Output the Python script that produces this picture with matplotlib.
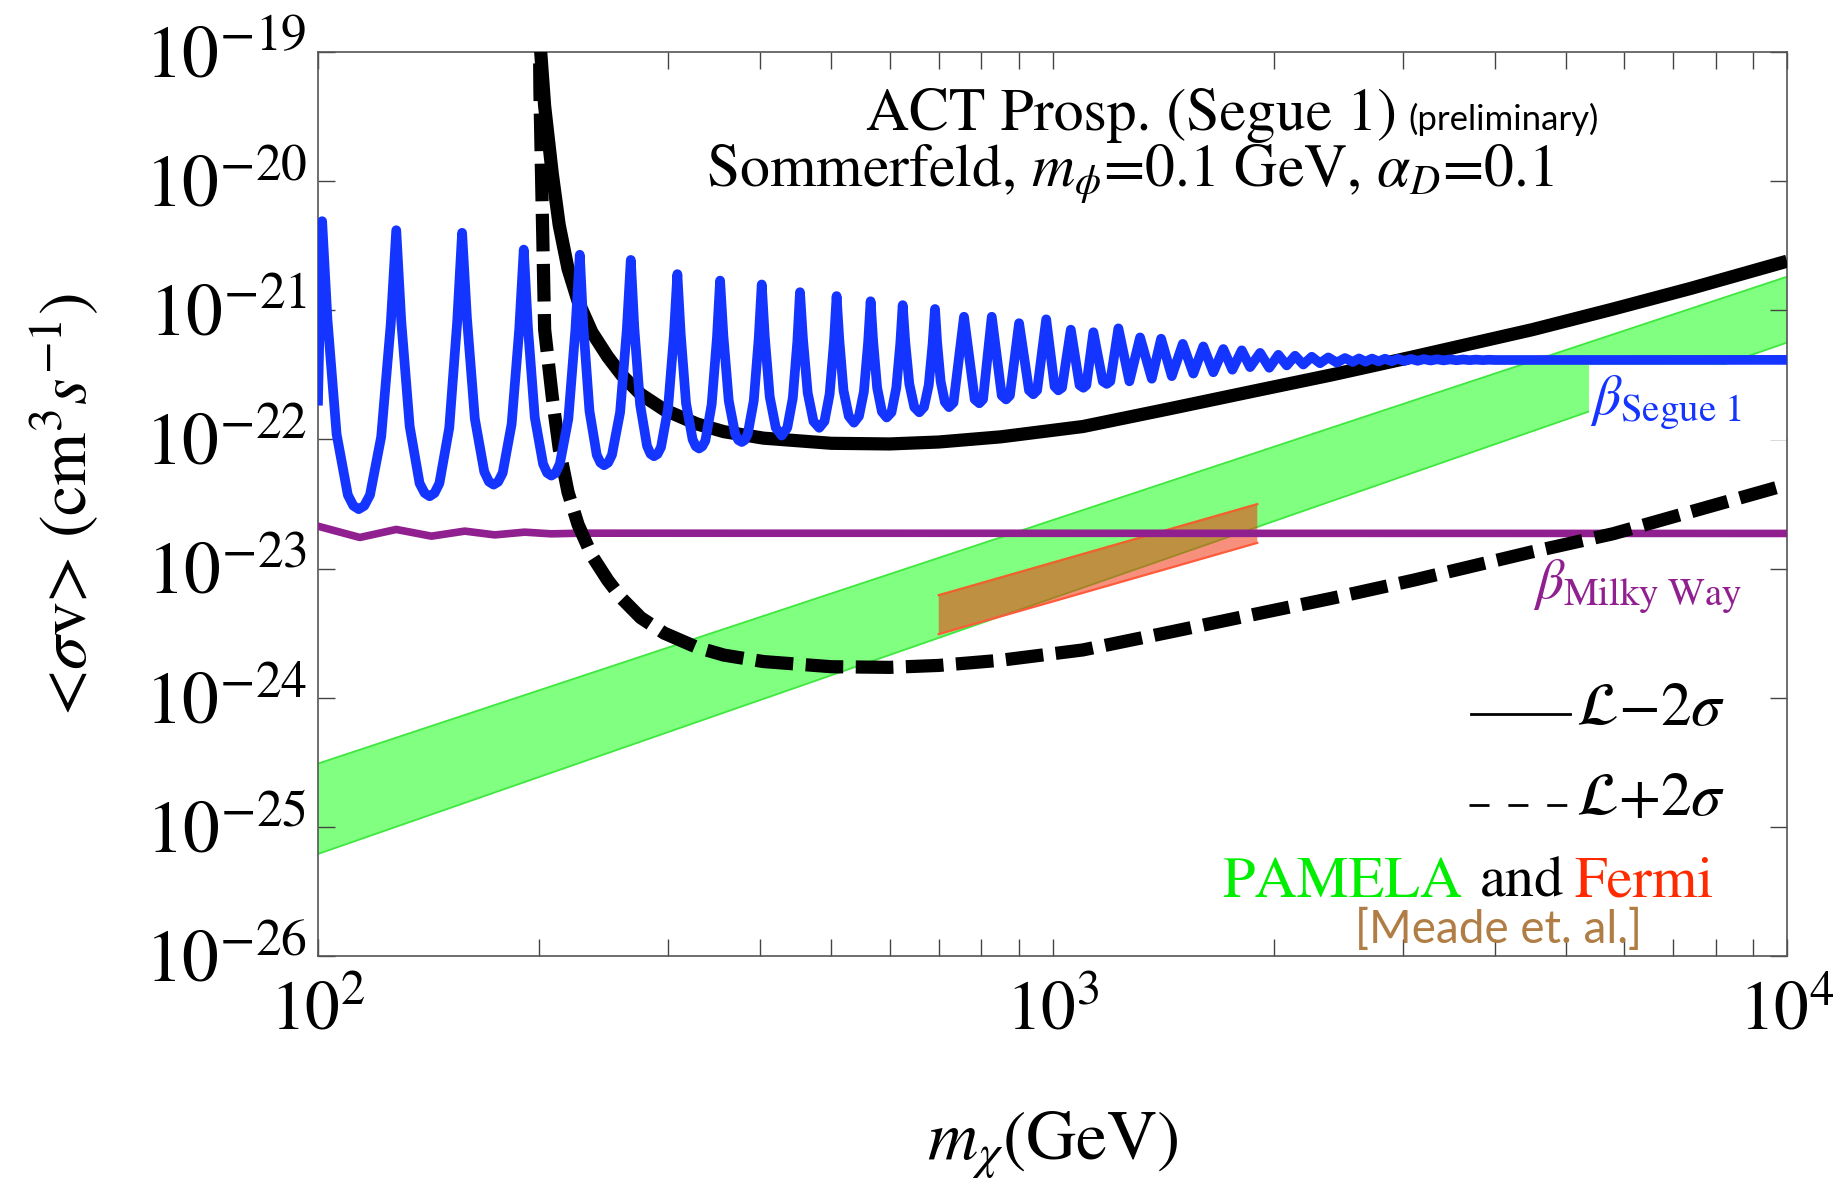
import numpy as np
import matplotlib.pyplot as plt
import matplotlib.patches as mpatches
from matplotlib.ticker import LogLocator, NullLocator, NullFormatter

plt.rcParams['font.family'] = ['STIXGeneral', 'DejaVu Sans']
plt.rcParams['mathtext.fontset'] = 'stix'

# ---- data (mass in GeV, <sigma v> as log10 exponent) ----

# beta Segue 1 (Sommerfeld resonances)
blue_mass = [
    100.0, 100.6, 101.3, 103.0, 106.0, 109.8, 111.7, 113.6, 115.6, 117.7, 121.9, 125.6,
    127.8, 129.8, 133.3, 137.5, 139.7, 141.9, 144.1, 146.3, 150.9, 154.7,
    157.1, 159.5, 163.5, 168.4, 170.9, 173.4, 175.9, 178.4, 183.5, 187.9,
    190.6, 193.1, 197.3, 202.5, 205.1, 207.8, 210.6, 213.4, 219.2, 224.1,
    227.2, 229.7, 234.2, 239.6, 242.4, 245.2, 248.3, 251.3, 257.8, 263.3,
    266.6, 269.5, 274.5, 280.5, 283.6, 286.7, 289.9, 293.1, 299.6, 305.1,
    308.5, 311.7, 317.0, 323.6, 326.9, 330.2, 333.5, 336.8, 343.5, 349.3,
    352.7, 356.4, 362.4, 369.8, 373.6, 377.5, 381.0, 384.6, 392.0, 398.1,
    401.9, 405.7, 412.1, 420.0, 427.9, 435.4, 443.0, 449.4,
    453.1, 457.3, 464.2, 472.7, 481.3, 489.2, 497.2, 504.1,
    508.2, 512.4, 519.3, 528.0, 536.6, 545.1, 553.6, 561.0,
    565.4, 569.9, 577.1, 585.8, 594.6, 603.6, 612.8, 620.5,
    625.2, 630.1, 638.3, 648.4, 658.6, 668.4, 678.4, 686.7,
    691.9, 696.5, 704.2, 713.5, 722.9, 733.2,
    757.7, 783.6, 795.0, 804.3, 826.6, 852.9, 864.5, 874.9, 900.5, 929.0, 941.6,
    952.9, 980.4, 1006.6, 1018.4, 1030.2, 1059, 1088.6, 1101.6, 1111.9, 1136.7,
    1170.7, 1185.5, 1198.6, 1229.4, 1272.5, 1315.9, 1365.1, 1405.5, 1453.4, 1504.4,
    1554.9, 1604.4, 1655.6, 1708.3, 1757.3, 1810.0, 1857.6, 1917, 1973, 2030,
    2084, 2139, 2195, 2254, 2313, 2374, 2438, 2502, 2563, 2614, 2668, 2723, 2779,
    2836, 2895, 2954, 3015, 3077, 3141, 3205, 3271, 3339, 3407, 3477, 3549, 3622,
    3697, 3773, 3850, 3929, 4010, 10000,
]
blue_exp = [
    -21.70, -21.00, -20.31, -21.07, -21.96, -22.43, -22.513, -22.54, -22.514, -22.43, -21.98, -21.11,
    -20.38, -21.08, -21.90, -22.34, -22.415, -22.44, -22.415, -22.34, -21.91, -21.09,
    -20.40, -21.06, -21.84, -22.25, -22.327, -22.35, -22.328, -22.26, -21.88, -21.15,
    -20.53, -21.13, -21.83, -22.19, -22.259, -22.28, -22.26, -22.19, -21.84, -21.15,
    -20.57, -21.12, -21.78, -22.12, -22.18, -22.20, -22.18, -22.12, -21.79, -21.15,
    -20.61, -21.13, -21.73, -22.05, -22.112, -22.13, -22.113, -22.06, -21.76, -21.20,
    -20.72, -21.18, -21.72, -22.00, -22.054, -22.07, -22.054, -22.01, -21.73, -21.21,
    -20.77, -21.20, -21.70, -21.96, -22.005, -22.02, -22.005, -21.96, -21.70, -21.22,
    -20.80, -21.20, -21.67, -21.91, -21.97, -21.91, -21.68, -21.24,
    -20.86, -21.22, -21.64, -21.86, -21.91, -21.86, -21.65, -21.24,
    -20.89, -21.22, -21.62, -21.82, -21.87, -21.82, -21.63, -21.25,
    -20.93, -21.24, -21.60, -21.785, -21.83, -21.79, -21.60, -21.26,
    -20.96, -21.24, -21.57, -21.75, -21.79, -21.75, -21.58, -21.26,
    -20.99, -21.25, -21.55, -21.71, -21.75, -21.715,
    -21.05, -21.69, -21.72, -21.69, -21.05, -21.66, -21.69, -21.66, -21.10, -21.62, -21.65,
    -21.62, -21.07, -21.59, -21.62, -21.60, -21.15, -21.58, -21.60, -21.58, -21.17,
    -21.55, -21.57, -21.55, -21.14, -21.55, -21.21, -21.53, -21.22, -21.51, -21.26,
    -21.49, -21.28, -21.48, -21.30, -21.46, -21.31, -21.44, -21.33, -21.445, -21.345,
    -21.427, -21.352, -21.42, -21.36, -21.41, -21.365, -21.405, -21.37, -21.40, -21.373,
    -21.398, -21.374, -21.396, -21.375, -21.394, -21.376, -21.392, -21.377, -21.391,
    -21.378, -21.389, -21.379, -21.388, -21.380, -21.387, -21.381, -21.386, -21.382,
    -21.386, -21.383, -21.385, -21.384,
]

# beta Milky Way
purple_mass = [100, 114.0, 127.8, 142.7, 158.4, 174.0, 191.2, 207.8, 227, 10000]
purple_exp = [-22.672, -22.759, -22.697, -22.749, -22.710, -22.739, -22.718, -22.731,
              -22.726, -22.728]

# L - 2 sigma (solid)
solid_mass = [200.6, 201.0, 203.5, 208.4, 213.0, 219.0, 226.0, 236.0, 248.0, 259.0,
              275.0, 296.0, 328.0, 357.0, 404.0, 500, 600, 700, 850, 1100, 1450, 1900,
              2400, 3100, 4500, 5800, 7400, 10000]
solid_exp = [-18.70, -19.00, -19.42, -19.94, -20.34, -20.68, -20.93, -21.17, -21.36,
             -21.50, -21.65, -21.77, -21.88, -21.94, -21.99, -22.03, -22.035, -22.02,
             -21.98, -21.90, -21.76, -21.62, -21.50, -21.36, -21.15, -20.99, -20.83,
             -20.62]

# L + 2 sigma (dashed)
dashed_mass = [200.1, 200.5, 201.5, 203.5, 208.4, 213.0, 219.0, 226.0, 236.0, 248.0,
               259.0, 275.0, 296.0, 328.0, 357.0, 404.0, 500, 600, 700, 850, 1100, 1450,
               1900, 2400, 3100, 4500, 5800, 7400, 10000]
dashed_exp = [-18.70, -19.30, -19.94, -21.15, -21.67, -22.07, -22.41, -22.66, -22.90,
              -23.09, -23.23, -23.38, -23.50, -23.61, -23.67, -23.72, -23.76, -23.765,
              -23.75, -23.71, -23.63, -23.49, -23.35, -23.23, -23.09, -22.87, -22.73,
              -22.56, -22.35]

# PAMELA band
pamela_mass = [100, 10000]
pamela_low = [-25.21, -21.25]
pamela_high = [-24.51, -20.74]

# Fermi band
fermi_mass = [700, 1900]
fermi_low = [-23.508, -22.801]
fermi_high = [-23.206, -22.501]

y_ticks = [1e-19, 1e-20, 1e-21, 1e-22, 1e-23, 1e-24, 1e-25, 1e-26]


def sv(e):
    return 10.0 ** np.asarray(e)


fig = plt.figure(figsize=(18.4, 11.8), dpi=100)
ax = fig.add_axes([0.17283, 0.18983, 0.79837, 0.76610])
ax.set_xscale('log')
ax.set_yscale('log')
ax.set_xlim(100, 10000)
ax.set_ylim(1e-26, 1e-19)

# bands
ax.fill_between(pamela_mass, sv(pamela_low), sv(pamela_high), facecolor='#80ff80',
                edgecolor='none', zorder=1)
ax.plot(pamela_mass, sv(pamela_low), color='#3ee83e', lw=1.3, zorder=1.1)
ax.plot(pamela_mass, sv(pamela_high), color='#3ee83e', lw=1.3, zorder=1.1)

ax.fill_between(fermi_mass, sv(fermi_low), sv(fermi_high), facecolor='#f03510',
                alpha=0.55, edgecolor='none', zorder=2)
ax.plot(fermi_mass, sv(fermi_high), color='#f0602a', lw=1.6, zorder=2.1)
ax.plot(fermi_mass, sv(fermi_low), color='#ff5a3a', lw=1.6, zorder=2.1)

# white background behind the beta_Segue1 label
ax.add_patch(mpatches.Rectangle((0.8652, 0.5708), 0.1348, 0.0830, transform=ax.transAxes,
                                facecolor='white', edgecolor='none', zorder=2.5))

# curves
ax.plot(purple_mass, sv(purple_exp), color='#902090', lw=5.5, zorder=3)
ax.plot(solid_mass, sv(solid_exp), color='black', lw=9.5, zorder=4,
        solid_capstyle='butt')
ax.plot(dashed_mass, sv(dashed_exp), color='black', lw=9.5, zorder=4,
        linestyle=(0, (2.85, 0.95)), dash_capstyle='butt')
ax.plot(blue_mass, sv(blue_exp), color='#1434ff', lw=7, zorder=5,
        solid_joinstyle='round')

# ticks / frame
ax.set_yticks(y_ticks)
ax.yaxis.set_minor_locator(NullLocator())
ax.xaxis.set_major_locator(LogLocator(base=10))
ax.xaxis.set_minor_locator(LogLocator(base=10, subs=np.arange(2, 10)))
ax.xaxis.set_minor_formatter(NullFormatter())
ax.tick_params(which='both', direction='in', top=True, right=True, length=12,
               width=1.0, color='#444444')
ax.tick_params(axis='x', which='major', labelsize=50, pad=19)
ax.tick_params(axis='y', which='major', labelsize=53, pad=8)
for s in ax.spines.values():
    s.set_color('#555555')
    s.set_linewidth(1.2)

ax.set_xlabel(r'$m_\chi$(GeV)', fontsize=50)
ax.xaxis.set_label_coords(0.5, -0.170)
ax.text(-0.172, 0.5, r'<$\sigma$v> (cm$^3$$s^{-1}$)', rotation=90, ha='center',
        va='center', fontsize=49, transform=ax.transAxes)

# header text
ax.text(0.7345, 0.9137, 'ACT Prosp. (Segue 1)', ha='right', va='baseline',
        fontsize=43, transform=ax.transAxes)
ax.text(0.7420, 0.9137, '(preliminary)', ha='left', va='baseline', fontsize=25,
        family='Lato', transform=ax.transAxes)
ax.text(0.553, 0.8507, r'Sommerfeld, $m_\phi$=0.1 GeV, $\alpha_D$=0.1', ha='center',
        va='baseline', fontsize=43, transform=ax.transAxes)

# curve labels
ax.text(0.9694, 0.5985, r'$\beta_{\mathrm{Segue\ 1}}$', ha='right', va='baseline',
        fontsize=40, color='#1434ff', transform=ax.transAxes, zorder=6)
ax.text(0.9694, 0.3960, r'$\beta_{\mathrm{Milky\ Way}}$', ha='right', va='baseline',
        fontsize=40, color='#902090', transform=ax.transAxes, zorder=6)

# legend-like entries
ax.plot([0.7849, 0.8523], [0.2677, 0.2677], color='black', lw=2.0,
        transform=ax.transAxes, zorder=6)
ax.plot([0.7835, 0.8523], [0.1670, 0.1670], color='black', lw=2.0,
        linestyle=(0, (7.2, 6.8)), transform=ax.transAxes, zorder=6)
ax.text(0.8564, 0.2555, r'$\mathcal{L}{-}2\sigma$', ha='left', va='baseline',
        fontsize=44, transform=ax.transAxes)
ax.text(0.8564, 0.1560, r'$\mathcal{L}{+}2\sigma$', ha='left', va='baseline',
        fontsize=44, transform=ax.transAxes)

ax.text(0.6154, 0.0653, 'PAMELA', ha='left', va='baseline', fontsize=42,
        color='#00ee00', transform=ax.transAxes)
ax.text(0.7910, 0.0653, 'and', ha='left', va='baseline', fontsize=42,
        color='black', transform=ax.transAxes)
ax.text(0.8550, 0.0653, 'Fermi', ha='left', va='baseline', fontsize=42,
        color='#ff2a00', transform=ax.transAxes)
ax.text(0.7060, 0.0144, '[Meade et. al.]', ha='left', va='baseline', fontsize=33,
        family='Lato', color='#b07d45', transform=ax.transAxes, zorder=6)

fig.savefig('out.png', dpi=100)
